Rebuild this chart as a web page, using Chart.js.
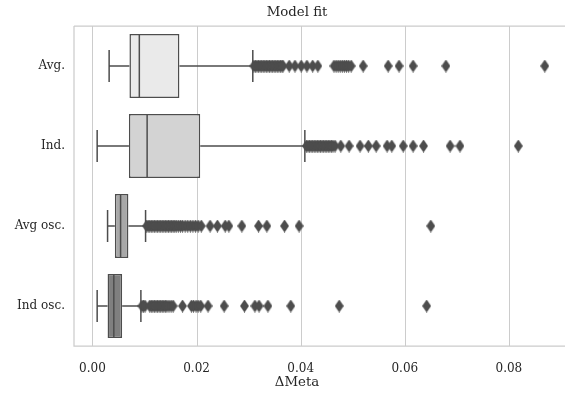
<!DOCTYPE html>
<html>
<head>
<meta charset="utf-8">
<script src="https://cdn.jsdelivr.net/npm/chart.js@4.4.1/dist/chart.umd.min.js"></script>
<style>
  html, body { margin: 0; padding: 0; background: #ffffff; overflow: hidden; }
  canvas { display: block; }
</style>
</head>
<body>
<canvas id="myChart" width="565" height="394"></canvas>
<script>
// chart values
const categories = ['Avg.', 'Ind.', 'Avg osc.', 'Ind osc.'];
const whiskerLow = [0.0032, 0.0009, 0.0029, 0.0009];
const q1 = [0.0071, 0.0070, 0.0043, 0.0029];
const median = [0.0090, 0.0105, 0.0054, 0.0041];
const q3 = [0.0167, 0.0207, 0.0069, 0.0057];
const whiskerHigh = [0.0308, 0.0408, 0.0102, 0.0093];

const outliersAvg = [0.0310, 0.0313, 0.0316, 0.0319, 0.0322, 0.0325, 0.0328, 0.0331, 0.0334, 0.0337,
    0.0340, 0.0343, 0.0346, 0.0349, 0.0352, 0.0355, 0.0358, 0.0361, 0.0364, 0.0366,
    0.0378, 0.0389, 0.0401, 0.0412, 0.0423, 0.0433,
    0.0464, 0.0468, 0.0472, 0.0476, 0.0480, 0.0484, 0.0488, 0.0492, 0.0497,
    0.0520, 0.0568, 0.0589, 0.0616, 0.0679, 0.0869];
const outliersInd = [0.0411, 0.0414, 0.0417, 0.0420, 0.0423, 0.0426, 0.0429, 0.0432, 0.0435, 0.0438,
    0.0441, 0.0444, 0.0447, 0.0450, 0.0453, 0.0456, 0.0459, 0.0462, 0.0466,
    0.0477, 0.0493, 0.0514, 0.0530, 0.0545, 0.0566, 0.0575, 0.0597, 0.0616, 0.0636,
    0.0687, 0.0706, 0.0818];
const outliersAvgOsc = [0.0104, 0.0107, 0.0110, 0.0113, 0.0116, 0.0119, 0.0122, 0.0125, 0.0128, 0.0131,
    0.0134, 0.0137, 0.0140, 0.0143, 0.0146, 0.0149, 0.0152, 0.0155, 0.0158, 0.0161,
    0.0165, 0.0169, 0.0173, 0.0178, 0.0183, 0.0188, 0.0193, 0.0198, 0.0203, 0.0209,
    0.0226, 0.0240, 0.0255, 0.0262, 0.0287, 0.0319, 0.0335, 0.0369, 0.0397, 0.0650];
const outliersIndOsc = [0.0095, 0.0098, 0.0101, 0.0110, 0.0113, 0.0116, 0.0119, 0.0122, 0.0125, 0.0128,
    0.0131, 0.0134, 0.0137, 0.0140, 0.0143, 0.0147, 0.0151, 0.0155,
    0.0173, 0.0190, 0.0194, 0.0199, 0.0203, 0.0208, 0.0222, 0.0253, 0.0292, 0.0312, 0.0320, 0.0337,
    0.0381, 0.0474, 0.0642];

const xTicks = [0, 0.02, 0.04, 0.06, 0.08];
const boxColors = ['#eaeaea', '#d3d3d3', '#a8a8a8', '#7f7f7f'];
const lineColor = '#4d4d4d';
const textColor = '#262626';
const gridColor = '#cccccc';
const fontFamily = "'DejaVu Serif', serif";

// thin diamond marker like matplotlib 'd'
function makeDiamond() {
    let c = document.createElement('canvas');
    c.width = 9;
    c.height = 13;
    let g = c.getContext('2d');
    g.fillStyle = lineColor;
    g.beginPath();
    g.moveTo(4.5, 0);
    g.lineTo(9, 6.5);
    g.lineTo(4.5, 13);
    g.lineTo(0, 6.5);
    g.closePath();
    g.fill();
    return c;
}
const diamond = makeDiamond();

let outlierPoints = [];
[outliersAvg, outliersInd, outliersAvgOsc, outliersIndOsc].forEach(function (list, i) {
    list.forEach(function (v) {
        outlierPoints.push({ x: v, y: categories[i] });
    });
});

const boxExtras = {
    id: 'boxExtras',
    beforeDatasetsDraw(chart) {
        const ctx = chart.ctx;
        const xs = chart.scales.x;
        const ys = chart.scales.y;
        const area = chart.chartArea;
        ctx.save();
        // vertical grid at the x ticks
        ctx.strokeStyle = gridColor;
        ctx.lineWidth = 1;
        ctx.beginPath();
        xTicks.forEach(function (v) {
            let px = Math.round(xs.getPixelForValue(v)) + 0.5;
            ctx.moveTo(px, area.top);
            ctx.lineTo(px, area.bottom);
        });
        ctx.stroke();

        // frame: top, left, bottom
        ctx.lineWidth = 1.25;
        ctx.beginPath();
        ctx.moveTo(area.left, area.top);
        ctx.lineTo(chart.width + 5, area.top);
        ctx.moveTo(area.left, area.top);
        ctx.lineTo(area.left, area.bottom);
        ctx.lineTo(chart.width + 5, area.bottom);
        ctx.stroke();

        // whiskers and caps
        ctx.strokeStyle = lineColor;
        ctx.lineWidth = 1.5;
        for (let i = 0; i < categories.length; i++) {
            let y = ys.getPixelForValue(i);
            let band = ys.getPixelForValue(1) - ys.getPixelForValue(0);
            let capHalf = band * 0.2;
            let xLo = xs.getPixelForValue(whiskerLow[i]);
            let xQ1 = xs.getPixelForValue(q1[i]);
            let xQ3 = xs.getPixelForValue(q3[i]);
            let xHi = xs.getPixelForValue(whiskerHigh[i]);
            ctx.beginPath();
            ctx.moveTo(xLo, y);
            ctx.lineTo(xQ1, y);
            ctx.moveTo(xQ3, y);
            ctx.lineTo(xHi, y);
            ctx.moveTo(xLo, y - capHalf);
            ctx.lineTo(xLo, y + capHalf);
            ctx.moveTo(xHi, y - capHalf);
            ctx.lineTo(xHi, y + capHalf);
            ctx.stroke();
        }
        ctx.restore();
    },
    afterDatasetsDraw(chart) {
        const ctx = chart.ctx;
        const xs = chart.scales.x;
        const ys = chart.scales.y;
        const area = chart.chartArea;
        ctx.save();
        ctx.strokeStyle = lineColor;
        ctx.lineWidth = 1.5;
        for (let i = 0; i < categories.length; i++) {
            let y = ys.getPixelForValue(i);
            let band = ys.getPixelForValue(1) - ys.getPixelForValue(0);
            let boxHalf = band * 0.4 - 0.75;
            let xm = xs.getPixelForValue(median[i]);
            ctx.beginPath();
            ctx.moveTo(xm, y - boxHalf);
            ctx.lineTo(xm, y + boxHalf);
            ctx.stroke();
        }

        // title and axis label
        let cx = area.left + 223;
        ctx.fillStyle = textColor;
        ctx.textAlign = 'center';
        ctx.textBaseline = 'middle';
        ctx.font = '13.3px ' + fontFamily;
        ctx.fillText('Model fit', cx, 13);
        ctx.fillText('\u0394Meta', cx, 383);
        ctx.restore();
    },
    afterDraw(chart) {
        // keep the right side of the frame open
        const ctx = chart.ctx;
        const area = chart.chartArea;
        ctx.save();
        ctx.fillStyle = '#ffffff';
        ctx.fillRect(chart.width - 8, area.top + 1, 20, area.bottom - area.top - 2);
        ctx.restore();
    }
};

const ctx = document.getElementById('myChart').getContext('2d');

let myChart = new Chart(ctx, {
    type: 'bar',
    data: {
        labels: categories,
        datasets: [{
            type: 'bar',
            data: categories.map(function (c, i) { return [q1[i], q3[i]]; }),
            backgroundColor: boxColors,
            borderColor: lineColor,
            borderWidth: 1.5,
            borderSkipped: false,
            barPercentage: 0.8,
            categoryPercentage: 1,
            grouped: false,
            order: 2
        }, {
            type: 'scatter',
            data: outlierPoints,
            pointStyle: diamond,
            pointRadius: 5,
            backgroundColor: lineColor,
            borderColor: lineColor,
            order: 0
        }]
    },
    options: {
        indexAxis: 'y',
        responsive: false,
        animation: false,
        events: [],
        layout: {
            autoPadding: false,
            padding: { top: 26, right: 0, bottom: 0, left: 0 }
        },
        plugins: {
            legend: { display: false },
            tooltip: { enabled: false },
            title: { display: false }
        },
        scales: {
            x: {
                type: 'linear',
                min: -0.00355,
                max: 0.09078,
                grid: { display: false, drawTicks: false },
                border: { display: false },
                ticks: {
                    padding: 16,
                    color: textColor,
                    font: { family: fontFamily, size: 12 },
                    callback: function (v) { return v.toFixed(2); }
                },
                afterBuildTicks: function (scale) {
                    scale.ticks = xTicks.map(function (v) { return { value: v }; });
                },
                afterFit: function (scale) {
                    scale.height = 48;
                }
            },
            y: {
                type: 'category',
                offset: true,
                grid: { display: false, drawTicks: false },
                border: { display: false },
                ticks: {
                    padding: 9,
                    color: textColor,
                    font: { family: fontFamily, size: 12 }
                },
                afterFit: function (scale) {
                    scale.width = 74;
                }
            }
        }
    },
    plugins: [boxExtras]
});
</script>
</body>
</html>
